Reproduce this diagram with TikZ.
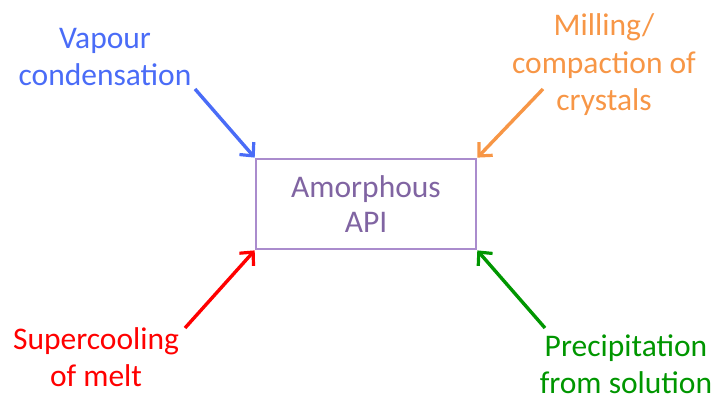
\documentclass[tikz,border=0pt]{standalone}
\usepackage{fontspec}
\setmainfont{Carlito}
\usetikzlibrary{arrows.meta}
\definecolor{cblue}{RGB}{74,108,247}
\definecolor{corange}{RGB}{247,150,70}
\definecolor{cred}{RGB}{255,0,0}
\definecolor{cgreen}{RGB}{0,150,0}
\definecolor{cpurple}{RGB}{128,100,162}
\definecolor{cbox}{RGB}{170,140,205}
\tikzset{
  lbl/.style={align=center, font=\fontsize{31.5}{37.5}\selectfont, inner sep=0pt},
  arr/.style={line width=3.4pt, -{Straight Barb[length=10pt,width=19pt,line width=3.2pt]}, shorten >=1pt},
}
\begin{document}
\begin{tikzpicture}[x=1pt,y=-1pt]
\useasboundingbox (0,0) rectangle (713,398);
\node[draw=cbox, line width=1.3pt, minimum width=220pt, minimum height=90pt, text=cpurple, lbl, font=\fontsize{31.5}{35}\selectfont] (api) at (366,204) {Amorphous\\API};
\node[lbl, text=cblue] (vap) at (105,57) {Vapour\\condensation};
\node[lbl, text=corange] (mill) at (604,65) {Milling/\\compaction of\\crystals};
\node[lbl, text=cred] (sup) at (96,357) {Supercooling\\of melt};
\node[lbl, text=cgreen] (pre) at (626,364) {Precipitation\\from solution};
\coordinate (vs) at (195,89);
\coordinate (ms) at (543,89);
\coordinate (ss) at (185,328);
\coordinate (ps) at (545,328);
\draw[arr, cblue] (vs) -- (api.north west);
\draw[arr, corange] (ms) -- (api.north east);
\draw[arr, cred] (ss) -- (api.south west);
\draw[arr, cgreen] (ps) -- (api.south east);
\end{tikzpicture}
\end{document}
